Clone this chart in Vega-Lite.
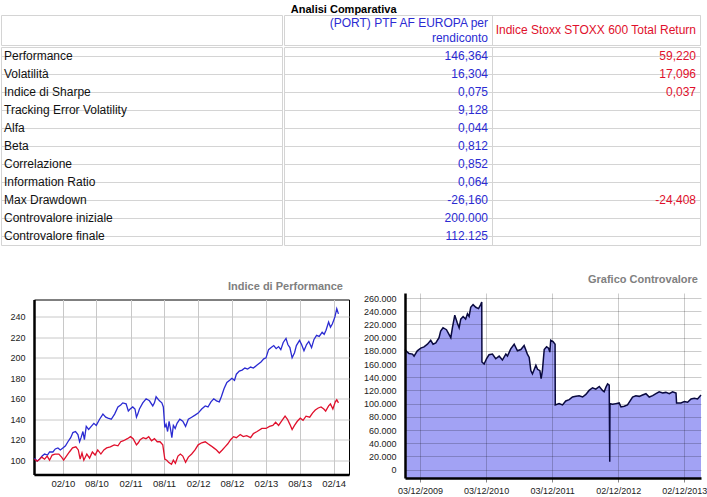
{
"$schema": "https://vega.github.io/schema/vega-lite/v6.json",
"padding": {"left": 0, "top": 3, "right": 0, "bottom": 0},
"title": {"text": "Analisi Comparativa", "font": "Liberation Sans", "fontSize": 11, "fontWeight": "bold", "color": "#000000", "anchor": "middle", "dx": -10, "offset": 0},
"config": {"font": "Liberation Sans", "view": {"stroke": null}, "axis": {"labelFont": "Liberation Sans", "labelColor": "#222222"}},
"datasets": {
"table": [
{"metrica": "Performance", "port": "146,364", "idx": "59,220"},
{"metrica": "Volatilità", "port": "16,304", "idx": "17,096"},
{"metrica": "Indice di Sharpe", "port": "0,075", "idx": "0,037"},
{"metrica": "Tracking Error Volatility", "port": "9,128", "idx": ""},
{"metrica": "Alfa", "port": "0,044", "idx": ""},
{"metrica": "Beta", "port": "0,812", "idx": ""},
{"metrica": "Correlazione", "port": "0,852", "idx": ""},
{"metrica": "Information Ratio", "port": "0,064", "idx": ""},
{"metrica": "Max Drawdown", "port": "-26,160", "idx": "-24,408"},
{"metrica": "Controvalore iniziale", "port": "200.000", "idx": ""},
{"metrica": "Controvalore finale", "port": "112.125", "idx": ""}
],
"header": [
{"col": "port", "riga": "r1", "label": "(PORT) PTF AF EUROPA per"},
{"col": "port", "riga": "r2", "label": "rendiconto"},
{"col": "idx", "riga": "mid", "label": "Indice Stoxx STOXX 600 Total Return"}
],
"perf": [
{"date":"2009-09-01","value":102,"series":"PORT"},{"date":"2009-09-15","value":99,"series":"PORT"},{"date":"2009-09-28","value":101,"series":"PORT"},{"date":"2009-10-12","value":104,"series":"PORT"},{"date":"2009-10-25","value":106,"series":"PORT"},{"date":"2009-11-10","value":105,"series":"PORT"},{"date":"2009-11-21","value":108,"series":"PORT"},{"date":"2009-12-09","value":108,"series":"PORT"},{"date":"2009-12-22","value":111,"series":"PORT"},{"date":"2010-01-05","value":112,"series":"PORT"},{"date":"2010-01-18","value":110,"series":"PORT"},{"date":"2010-02-01","value":112,"series":"PORT"},{"date":"2010-02-15","value":114,"series":"PORT"},{"date":"2010-02-28","value":118,"series":"PORT"},{"date":"2010-03-15","value":122,"series":"PORT"},{"date":"2010-03-27","value":127,"series":"PORT"},{"date":"2010-04-10","value":128,"series":"PORT"},{"date":"2010-04-23","value":125,"series":"PORT"},{"date":"2010-05-02","value":118,"series":"PORT"},{"date":"2010-05-10","value":122,"series":"PORT"},{"date":"2010-05-20","value":128,"series":"PORT"},{"date":"2010-05-28","value":120,"series":"PORT"},{"date":"2010-06-07","value":133,"series":"PORT"},{"date":"2010-06-20","value":130,"series":"PORT"},{"date":"2010-07-04","value":133,"series":"PORT"},{"date":"2010-07-18","value":136,"series":"PORT"},{"date":"2010-07-31","value":134,"series":"PORT"},{"date":"2010-08-18","value":140,"series":"PORT"},{"date":"2010-09-05","value":145,"series":"PORT"},{"date":"2010-09-20","value":142,"series":"PORT"},{"date":"2010-10-02","value":141,"series":"PORT"},{"date":"2010-10-20","value":140,"series":"PORT"},{"date":"2010-11-07","value":145,"series":"PORT"},{"date":"2010-11-25","value":152,"series":"PORT"},{"date":"2010-12-10","value":154,"series":"PORT"},{"date":"2010-12-21","value":156,"series":"PORT"},{"date":"2011-01-08","value":155,"series":"PORT"},{"date":"2011-01-20","value":148,"series":"PORT"},{"date":"2011-01-30","value":150,"series":"PORT"},{"date":"2011-02-13","value":152,"series":"PORT"},{"date":"2011-02-25","value":150,"series":"PORT"},{"date":"2011-03-05","value":142,"series":"PORT"},{"date":"2011-03-12","value":145,"series":"PORT"},{"date":"2011-03-21","value":150,"series":"PORT"},{"date":"2011-04-08","value":156,"series":"PORT"},{"date":"2011-04-26","value":160,"series":"PORT"},{"date":"2011-05-14","value":158,"series":"PORT"},{"date":"2011-06-01","value":153,"series":"PORT"},{"date":"2011-06-10","value":156,"series":"PORT"},{"date":"2011-06-19","value":162,"series":"PORT"},{"date":"2011-07-07","value":158,"series":"PORT"},{"date":"2011-07-20","value":156,"series":"PORT"},{"date":"2011-07-28","value":152,"series":"PORT"},{"date":"2011-08-05","value":132,"series":"PORT"},{"date":"2011-08-12","value":135,"series":"PORT"},{"date":"2011-08-20","value":128,"series":"PORT"},{"date":"2011-08-28","value":138,"series":"PORT"},{"date":"2011-09-05","value":130,"series":"PORT"},{"date":"2011-09-12","value":122,"series":"PORT"},{"date":"2011-09-20","value":134,"series":"PORT"},{"date":"2011-09-30","value":131,"series":"PORT"},{"date":"2011-10-10","value":136,"series":"PORT"},{"date":"2011-10-25","value":140,"series":"PORT"},{"date":"2011-11-10","value":138,"series":"PORT"},{"date":"2011-11-25","value":133,"series":"PORT"},{"date":"2011-12-10","value":140,"series":"PORT"},{"date":"2011-12-28","value":142,"series":"PORT"},{"date":"2012-01-15","value":144,"series":"PORT"},{"date":"2012-02-01","value":146,"series":"PORT"},{"date":"2012-02-20","value":150,"series":"PORT"},{"date":"2012-03-10","value":153,"series":"PORT"},{"date":"2012-03-25","value":152,"series":"PORT"},{"date":"2012-04-10","value":157,"series":"PORT"},{"date":"2012-04-25","value":160,"series":"PORT"},{"date":"2012-05-10","value":158,"series":"PORT"},{"date":"2012-05-25","value":157,"series":"PORT"},{"date":"2012-06-05","value":162,"series":"PORT"},{"date":"2012-06-20","value":170,"series":"PORT"},{"date":"2012-07-05","value":176,"series":"PORT"},{"date":"2012-07-20","value":178,"series":"PORT"},{"date":"2012-08-01","value":180,"series":"PORT"},{"date":"2012-08-15","value":178,"series":"PORT"},{"date":"2012-08-25","value":184,"series":"PORT"},{"date":"2012-09-10","value":187,"series":"PORT"},{"date":"2012-09-25","value":188,"series":"PORT"},{"date":"2012-10-10","value":190,"series":"PORT"},{"date":"2012-10-25","value":189,"series":"PORT"},{"date":"2012-11-10","value":191,"series":"PORT"},{"date":"2012-11-25","value":190,"series":"PORT"},{"date":"2012-12-15","value":193,"series":"PORT"},{"date":"2013-01-05","value":196,"series":"PORT"},{"date":"2013-01-20","value":199,"series":"PORT"},{"date":"2013-02-01","value":200,"series":"PORT"},{"date":"2013-02-15","value":208,"series":"PORT"},{"date":"2013-03-01","value":210,"series":"PORT"},{"date":"2013-03-15","value":212,"series":"PORT"},{"date":"2013-03-28","value":209,"series":"PORT"},{"date":"2013-04-10","value":211,"series":"PORT"},{"date":"2013-04-22","value":208,"series":"PORT"},{"date":"2013-05-05","value":215,"series":"PORT"},{"date":"2013-05-20","value":219,"series":"PORT"},{"date":"2013-05-30","value":213,"series":"PORT"},{"date":"2013-06-10","value":210,"series":"PORT"},{"date":"2013-06-22","value":200,"series":"PORT"},{"date":"2013-07-05","value":205,"series":"PORT"},{"date":"2013-07-15","value":212,"series":"PORT"},{"date":"2013-08-01","value":217,"series":"PORT"},{"date":"2013-08-12","value":213,"series":"PORT"},{"date":"2013-08-25","value":207,"series":"PORT"},{"date":"2013-09-08","value":213,"series":"PORT"},{"date":"2013-09-20","value":216,"series":"PORT"},{"date":"2013-10-05","value":210,"series":"PORT"},{"date":"2013-10-18","value":218,"series":"PORT"},{"date":"2013-11-01","value":222,"series":"PORT"},{"date":"2013-11-15","value":221,"series":"PORT"},{"date":"2013-12-01","value":225,"series":"PORT"},{"date":"2013-12-12","value":223,"series":"PORT"},{"date":"2013-12-22","value":227,"series":"PORT"},{"date":"2014-01-05","value":235,"series":"PORT"},{"date":"2014-01-15","value":230,"series":"PORT"},{"date":"2014-01-25","value":233,"series":"PORT"},{"date":"2014-02-08","value":240,"series":"PORT"},{"date":"2014-02-18","value":248,"series":"PORT"},{"date":"2014-02-27","value":243,"series":"PORT"},
{"date":"2009-09-01","value":101,"series":"Indice"},{"date":"2009-09-15","value":99,"series":"Indice"},{"date":"2009-09-28","value":101,"series":"Indice"},{"date":"2009-10-10","value":103,"series":"Indice"},{"date":"2009-10-25","value":101,"series":"Indice"},{"date":"2009-11-08","value":104,"series":"Indice"},{"date":"2009-11-21","value":100,"series":"Indice"},{"date":"2009-12-05","value":105,"series":"Indice"},{"date":"2009-12-20","value":106,"series":"Indice"},{"date":"2010-01-10","value":106,"series":"Indice"},{"date":"2010-01-25","value":103,"series":"Indice"},{"date":"2010-02-05","value":100,"series":"Indice"},{"date":"2010-02-20","value":104,"series":"Indice"},{"date":"2010-03-08","value":108,"series":"Indice"},{"date":"2010-03-25","value":112,"series":"Indice"},{"date":"2010-04-12","value":113,"series":"Indice"},{"date":"2010-04-25","value":110,"series":"Indice"},{"date":"2010-05-05","value":101,"series":"Indice"},{"date":"2010-05-15","value":107,"series":"Indice"},{"date":"2010-05-25","value":100,"series":"Indice"},{"date":"2010-06-10","value":106,"series":"Indice"},{"date":"2010-06-25","value":102,"series":"Indice"},{"date":"2010-07-10","value":108,"series":"Indice"},{"date":"2010-07-25","value":105,"series":"Indice"},{"date":"2010-08-08","value":110,"series":"Indice"},{"date":"2010-08-25","value":106,"series":"Indice"},{"date":"2010-09-10","value":110,"series":"Indice"},{"date":"2010-09-25","value":112,"series":"Indice"},{"date":"2010-10-15","value":113,"series":"Indice"},{"date":"2010-11-05","value":115,"series":"Indice"},{"date":"2010-11-25","value":114,"series":"Indice"},{"date":"2010-12-10","value":118,"series":"Indice"},{"date":"2010-12-25","value":119,"series":"Indice"},{"date":"2011-01-15","value":121,"series":"Indice"},{"date":"2011-02-01","value":123,"series":"Indice"},{"date":"2011-02-15","value":121,"series":"Indice"},{"date":"2011-03-05","value":115,"series":"Indice"},{"date":"2011-03-15","value":117,"series":"Indice"},{"date":"2011-03-25","value":120,"series":"Indice"},{"date":"2011-04-10","value":122,"series":"Indice"},{"date":"2011-04-25","value":121,"series":"Indice"},{"date":"2011-05-10","value":123,"series":"Indice"},{"date":"2011-05-25","value":119,"series":"Indice"},{"date":"2011-06-10","value":121,"series":"Indice"},{"date":"2011-06-25","value":118,"series":"Indice"},{"date":"2011-07-10","value":118,"series":"Indice"},{"date":"2011-07-25","value":115,"series":"Indice"},{"date":"2011-08-05","value":101,"series":"Indice"},{"date":"2011-08-15","value":100,"series":"Indice"},{"date":"2011-08-25","value":98,"series":"Indice"},{"date":"2011-09-10","value":96,"series":"Indice"},{"date":"2011-09-20","value":100,"series":"Indice"},{"date":"2011-10-01","value":97,"series":"Indice"},{"date":"2011-10-15","value":104,"series":"Indice"},{"date":"2011-10-28","value":106,"series":"Indice"},{"date":"2011-11-10","value":104,"series":"Indice"},{"date":"2011-11-25","value":98,"series":"Indice"},{"date":"2011-12-10","value":103,"series":"Indice"},{"date":"2011-12-28","value":106,"series":"Indice"},{"date":"2012-01-15","value":110,"series":"Indice"},{"date":"2012-02-01","value":115,"series":"Indice"},{"date":"2012-02-20","value":117,"series":"Indice"},{"date":"2012-03-10","value":118,"series":"Indice"},{"date":"2012-03-25","value":116,"series":"Indice"},{"date":"2012-04-10","value":114,"series":"Indice"},{"date":"2012-04-25","value":112,"series":"Indice"},{"date":"2012-05-10","value":110,"series":"Indice"},{"date":"2012-05-25","value":107,"series":"Indice"},{"date":"2012-06-10","value":110,"series":"Indice"},{"date":"2012-06-25","value":113,"series":"Indice"},{"date":"2012-07-10","value":116,"series":"Indice"},{"date":"2012-07-25","value":120,"series":"Indice"},{"date":"2012-08-10","value":123,"series":"Indice"},{"date":"2012-08-25","value":122,"series":"Indice"},{"date":"2012-09-15","value":125,"series":"Indice"},{"date":"2012-10-01","value":123,"series":"Indice"},{"date":"2012-10-20","value":124,"series":"Indice"},{"date":"2012-11-10","value":122,"series":"Indice"},{"date":"2012-11-25","value":126,"series":"Indice"},{"date":"2012-12-15","value":128,"series":"Indice"},{"date":"2013-01-10","value":131,"series":"Indice"},{"date":"2013-02-01","value":131,"series":"Indice"},{"date":"2013-02-20","value":133,"series":"Indice"},{"date":"2013-03-10","value":134,"series":"Indice"},{"date":"2013-03-25","value":137,"series":"Indice"},{"date":"2013-04-10","value":134,"series":"Indice"},{"date":"2013-04-25","value":138,"series":"Indice"},{"date":"2013-05-15","value":143,"series":"Indice"},{"date":"2013-05-28","value":140,"series":"Indice"},{"date":"2013-06-10","value":135,"series":"Indice"},{"date":"2013-06-22","value":130,"series":"Indice"},{"date":"2013-07-05","value":134,"series":"Indice"},{"date":"2013-07-20","value":138,"series":"Indice"},{"date":"2013-08-05","value":141,"series":"Indice"},{"date":"2013-08-20","value":139,"series":"Indice"},{"date":"2013-09-05","value":143,"series":"Indice"},{"date":"2013-09-25","value":142,"series":"Indice"},{"date":"2013-10-10","value":146,"series":"Indice"},{"date":"2013-10-25","value":149,"series":"Indice"},{"date":"2013-11-10","value":151,"series":"Indice"},{"date":"2013-11-25","value":152,"series":"Indice"},{"date":"2013-12-10","value":150,"series":"Indice"},{"date":"2013-12-20","value":148,"series":"Indice"},{"date":"2014-01-05","value":153,"series":"Indice"},{"date":"2014-01-15","value":155,"series":"Indice"},{"date":"2014-01-28","value":150,"series":"Indice"},{"date":"2014-02-10","value":157,"series":"Indice"},{"date":"2014-02-18","value":159,"series":"Indice"},{"date":"2014-02-27","value":156,"series":"Indice"}
],
"cv": [
{"date":"2009-09-11","value":182000},{"date":"2009-09-24","value":178000},{"date":"2009-10-03","value":176000},{"date":"2009-10-22","value":175000},{"date":"2009-10-31","value":172000},{"date":"2009-11-18","value":180000},{"date":"2009-12-07","value":184000},{"date":"2009-12-25","value":186000},{"date":"2010-01-13","value":190000},{"date":"2010-01-31","value":196000},{"date":"2010-02-13","value":190000},{"date":"2010-02-28","value":192000},{"date":"2010-03-18","value":200000},{"date":"2010-03-27","value":210000},{"date":"2010-04-09","value":215000},{"date":"2010-04-28","value":212000},{"date":"2010-05-12","value":205000},{"date":"2010-05-22","value":200000},{"date":"2010-05-31","value":215000},{"date":"2010-06-13","value":234000},{"date":"2010-06-27","value":222000},{"date":"2010-07-07","value":215000},{"date":"2010-07-16","value":228000},{"date":"2010-07-29","value":232000},{"date":"2010-08-12","value":228000},{"date":"2010-08-22","value":236000},{"date":"2010-08-31","value":232000},{"date":"2010-09-09","value":246000},{"date":"2010-09-22","value":250000},{"date":"2010-10-07","value":246000},{"date":"2010-10-22","value":244000},{"date":"2010-11-03","value":250000},{"date":"2010-11-09","value":254000},{"date":"2010-11-10","value":163000},{"date":"2010-11-22","value":160000},{"date":"2010-12-05","value":168000},{"date":"2010-12-19","value":174000},{"date":"2011-01-07","value":175000},{"date":"2011-01-25","value":168000},{"date":"2011-02-13","value":172000},{"date":"2011-03-03","value":166000},{"date":"2011-03-22","value":175000},{"date":"2011-03-31","value":172000},{"date":"2011-04-18","value":183000},{"date":"2011-05-07","value":190000},{"date":"2011-05-25","value":180000},{"date":"2011-06-13","value":182000},{"date":"2011-07-01","value":188000},{"date":"2011-07-19","value":175000},{"date":"2011-07-29","value":170000},{"date":"2011-08-07","value":150000},{"date":"2011-08-16","value":145000},{"date":"2011-09-04","value":158000},{"date":"2011-09-13","value":152000},{"date":"2011-09-26","value":150000},{"date":"2011-10-03","value":138000},{"date":"2011-10-10","value":150000},{"date":"2011-10-20","value":182000},{"date":"2011-11-02","value":186000},{"date":"2011-11-13","value":184000},{"date":"2011-11-20","value":178000},{"date":"2011-11-25","value":196000},{"date":"2011-12-08","value":194000},{"date":"2011-12-19","value":190000},{"date":"2011-12-20","value":98000},{"date":"2012-01-10","value":100000},{"date":"2012-01-29","value":98000},{"date":"2012-02-16","value":104000},{"date":"2012-03-06","value":106000},{"date":"2012-03-24","value":110000},{"date":"2012-04-12","value":111000},{"date":"2012-04-30","value":112000},{"date":"2012-05-19","value":110000},{"date":"2012-06-06","value":114000},{"date":"2012-06-24","value":120000},{"date":"2012-07-13","value":124000},{"date":"2012-07-31","value":122000},{"date":"2012-08-19","value":126000},{"date":"2012-09-06","value":120000},{"date":"2012-09-15","value":118000},{"date":"2012-09-25","value":125000},{"date":"2012-10-04","value":130000},{"date":"2012-10-13","value":128000},{"date":"2012-10-16","value":12000},{"date":"2012-10-17","value":100000},{"date":"2012-10-31","value":99000},{"date":"2012-11-19","value":100000},{"date":"2012-12-07","value":101000},{"date":"2012-12-17","value":95000},{"date":"2013-01-04","value":96000},{"date":"2013-01-22","value":98000},{"date":"2013-02-19","value":110000},{"date":"2013-03-09","value":112000},{"date":"2013-03-28","value":111000},{"date":"2013-04-15","value":113000},{"date":"2013-05-04","value":115000},{"date":"2013-05-22","value":110000},{"date":"2013-06-10","value":112000},{"date":"2013-06-28","value":115000},{"date":"2013-07-16","value":118000},{"date":"2013-08-04","value":116000},{"date":"2013-08-22","value":117000},{"date":"2013-09-10","value":115000},{"date":"2013-09-28","value":118000},{"date":"2013-10-17","value":116000},{"date":"2013-10-20","value":101000},{"date":"2013-11-13","value":101000},{"date":"2013-12-02","value":103000},{"date":"2013-12-20","value":102000},{"date":"2014-01-08","value":107000},{"date":"2014-01-26","value":108000},{"date":"2014-02-13","value":107000},{"date":"2014-03-04","value":113000}
]
},
"vconcat": [
{
"spacing": 0,
"vconcat": [
{
"spacing": 0,
"hconcat": [
{
"width": 281, "height": 30,
"view": {"stroke": "#d4d4d4"},
"data": {"name": "header"},
"mark": {"type": "rect", "opacity": 0},
"encoding": {}
},
{
"width": 416, "height": 30,
"view": {"stroke": "#d4d4d4"},
"data": {"name": "header"},
"mark": {"type": "text", "align": "right", "baseline": "middle", "dx": -4, "font": "Liberation Sans", "fontSize": 12},
"encoding": {
"x": {"field": "col", "type": "nominal", "scale": {"type": "point", "domain": ["port", "idx"], "padding": 0.5, "align": 1}, "axis": {"grid": true, "labels": false, "ticks": false, "domain": false, "title": null, "gridColor": "#d4d4d4"}},
"y": {"field": "riga", "type": "nominal", "scale": {"type": "point", "domain": ["r1", "mid", "r2"], "padding": 1}, "axis": null},
"text": {"field": "label"},
"color": {"field": "col", "type": "nominal", "scale": {"domain": ["port", "idx"], "range": ["#2b2bd2", "#e0102c"]}, "legend": null}
}
}
]
},
{
"spacing": 0,
"hconcat": [
{
"width": 281, "height": 198,
"view": {"stroke": "#d4d4d4"},
"data": {"name": "table"},
"mark": {"type": "text", "align": "left", "baseline": "middle", "dx": 3, "font": "Liberation Sans", "fontSize": 12, "color": "#111111"},
"encoding": {
"y": {"field": "metrica", "type": "nominal", "sort": null, "scale": {"paddingInner": 0, "paddingOuter": 0}, "axis": {"grid": true, "bandPosition": 0, "labels": false, "ticks": false, "domain": false, "title": null, "gridColor": "#d4d4d4"}},
"x": {"datum": "m", "type": "nominal", "scale": {"type": "point", "padding": 0, "align": 0}, "axis": null},
"text": {"field": "metrica"}
}
},
{
"width": 416, "height": 198,
"view": {"stroke": "#d4d4d4"},
"data": {"name": "table"},
"transform": [{"fold": ["port", "idx"], "as": ["col", "val"]}],
"mark": {"type": "text", "align": "right", "baseline": "middle", "dx": -4, "font": "Liberation Sans", "fontSize": 12},
"encoding": {
"y": {"field": "metrica", "type": "nominal", "sort": null, "scale": {"paddingInner": 0, "paddingOuter": 0}, "axis": {"grid": true, "bandPosition": 0, "labels": false, "ticks": false, "domain": false, "title": null, "gridColor": "#d4d4d4"}},
"x": {"field": "col", "type": "nominal", "scale": {"type": "point", "domain": ["port", "idx"], "padding": 0.5, "align": 1}, "axis": {"grid": true, "labels": false, "ticks": false, "domain": false, "title": null, "gridColor": "#d4d4d4"}},
"text": {"field": "val"},
"color": {"field": "col", "type": "nominal", "scale": {"domain": ["port", "idx"], "range": ["#2b2bd2", "#e0102c"]}, "legend": null}
}
}
]
}
]
},
{
"spacing": 13,
"center": true,
"hconcat": [
{
"spacing": 0,
"center": true,
"hconcat": [
{
"width": 8, "height": 1,
"data": {"name": "header"},
"mark": {"type": "rect", "opacity": 0},
"encoding": {}
},
{
"width": 315, "height": 175,
"view": {"stroke": "#000000", "strokeWidth": 1},
"title": {"text": "Indice di Performance", "anchor": "end", "frame": "group", "dx": -6, "font": "Liberation Sans", "fontSize": 11, "fontWeight": "bold", "color": "#808080", "offset": 8},
"data": {"name": "perf"},
"mark": {"type": "line", "strokeWidth": 1.3},
"encoding": {
"x": {"field": "date", "type": "temporal",
"scale": {"domain": [{"year": 2009, "month": 8, "date": 29}, {"year": 2014, "month": 4, "date": 25}]},
"axis": {"values": [{"year": 2010, "month": 2, "date": 1}, {"year": 2010, "month": 8, "date": 1}, {"year": 2011, "month": 2, "date": 1}, {"year": 2011, "month": 8, "date": 1}, {"year": 2012, "month": 2, "date": 1}, {"year": 2012, "month": 8, "date": 1}, {"year": 2013, "month": 2, "date": 1}, {"year": 2013, "month": 8, "date": 1}, {"year": 2014, "month": 2, "date": 1}],
"format": "%m/%y", "title": null, "grid": true, "gridColor": "#c8c8c8", "domainColor": "#000000", "domainWidth": 2.5, "ticks": false, "labelPadding": 4, "labelFontSize": 9.5}},
"y": {"field": "value", "type": "quantitative",
"scale": {"domain": [86, 257], "nice": false, "zero": false},
"axis": {"values": [100, 120, 140, 160, 180, 200, 220, 240], "title": null, "grid": true, "gridColor": "#c8c8c8", "domainColor": "#000000", "domainWidth": 2.5, "ticks": false, "labelPadding": 9, "labelFontSize": 9}},
"color": {"field": "series", "type": "nominal", "scale": {"domain": ["PORT", "Indice"], "range": ["#1010d0", "#ee0000"]}, "legend": null}
}
}
]
},
{
"width": 296, "height": 185,
"title": {"text": "Grafico Controvalore", "anchor": "end", "frame": "group", "dx": -3, "font": "Liberation Sans", "fontSize": 11, "fontWeight": "bold", "color": "#808080", "offset": 8},
"data": {"name": "cv"},
"mark": {"type": "area", "color": "#7b7bef", "line": {"color": "#0a0a40", "strokeWidth": 1.5}},
"encoding": {
"x": {"field": "date", "type": "temporal",
"scale": {"domain": [{"year": 2009, "month": 9, "date": 11}, {"year": 2014, "month": 3, "date": 4}]},
"axis": {"values": [{"year": 2009, "month": 12, "date": 3}, {"year": 2010, "month": 12, "date": 3}, {"year": 2011, "month": 12, "date": 3}, {"year": 2012, "month": 12, "date": 2}, {"year": 2013, "month": 12, "date": 2}],
"format": "%d/%m/%Y", "title": null, "grid": true, "gridColor": "#000000", "gridOpacity": 0.2, "domainColor": "#000000", "domainWidth": 2.5, "ticks": true, "tickColor": "#888888", "tickSize": 4, "labelPadding": 4, "labelFontSize": 9, "zindex": 1}},
"y": {"field": "value", "type": "quantitative",
"scale": {"domain": [-12700, 267600], "nice": false, "zero": false},
"axis": {"values": [0, 20000, 40000, 60000, 80000, 100000, 120000, 140000, 160000, 180000, 200000, 220000, 240000, 260000], "labelExpr": "replace(format(datum.value, ','), ',', '.')", "title": null, "grid": true, "gridColor": "#000000", "gridOpacity": 0.2, "domainColor": "#000000", "domainWidth": 2.5, "ticks": false, "labelPadding": 9, "labelFontSize": 9, "zindex": 1}},
"y2": {"datum": -12700}
}
}
]
}
],
"spacing": 28
}
